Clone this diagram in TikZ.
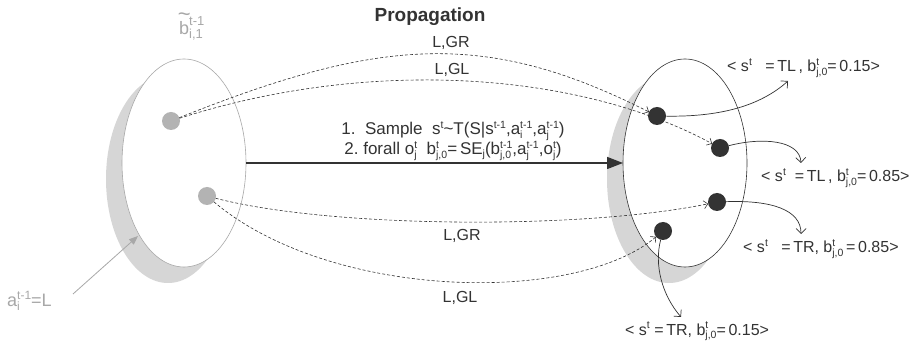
\documentclass[tikz,border=0pt]{standalone}
\usepackage{fontspec}
\setmainfont{Liberation Sans}
\usetikzlibrary{arrows.meta,shapes.geometric}
\definecolor{dark}{HTML}{333333}
\definecolor{lgrey}{HTML}{A8A8A8}
\definecolor{crescent}{HTML}{D6D6D6}
\definecolor{dotgrey}{HTML}{B3B3B3}
\newcommand\smallf{\fontsize{10.5}{11}\selectfont}
\newcommand\Sup[1]{\raise6pt\hbox{\smallf #1}}
\newcommand\Sub[1]{\lower3pt\hbox{\smallf #1}}
\newcommand\SupSub[2]{\mbox{\setbox0\hbox{\smallf #1}\setbox2\hbox{\smallf #2}%
  \raise6.5pt\copy0\kern-\wd0\lower3.5pt\copy2\kern-\wd2
  \ifdim\wd0>\wd2\kern\wd0\else\kern\wd2\fi}}
\begin{document}
\begin{tikzpicture}[x=1pt,y=-1pt,
  lbl/.style={font=\fontsize{16}{18}\selectfont, text=dark, inner sep=0pt},
  mlbl/.style={font=\fontsize{17}{19}\selectfont, text=dark, inner sep=0pt},
  glbl/.style={font=\fontsize{18}{20}\selectfont, text=lgrey, inner sep=0pt},
  belief/.style={ellipse, minimum width=124pt, minimum height=208pt, inner sep=0pt, outer sep=0pt, fill=white, line width=0.6pt},
  gdot/.style={circle, fill=dotgrey, minimum size=18pt, inner sep=0pt, outer sep=0pt},
  bdot/.style={circle, fill=dark, minimum size=18pt, inner sep=0pt, outer sep=0pt},
  darr/.style={draw=dark, line width=0.6pt, dash pattern=on 3pt off 2pt, -{Straight Barb[length=4pt,width=8pt]}},
  larr/.style={draw=dark, line width=0.7pt, -{Straight Barb[length=5pt,width=10pt]}},
  marr/.style={draw=dark, line width=1.6pt, -{Triangle[length=16pt,width=12pt]}}
]
\fill[white] (0,0) rectangle (915,344);
\useasboundingbox (0,0) rectangle (915,344);

% shadows (crescents)
\fill[crescent] (168,179) ellipse [x radius=62, y radius=104];
\fill[crescent] (669,179) ellipse [x radius=62, y radius=104];

% belief ellipses
\node[belief, draw=lgrey] (LE) at (184,163) {};
\node[belief, draw=dark] (RE) at (685,163) {};

% dots
\node[gdot] (ld1) at (171,121) {};
\node[gdot] (ld2) at (207,196) {};
\node[bdot] (rd1) at (657,116) {};
\node[bdot] (rd2) at (720,148) {};
\node[bdot] (rd3) at (717,202) {};
\node[bdot] (rd4) at (663,231) {};

% dashed propagation curves
\draw[darr] (ld1) .. controls (381,37) and (487,30) .. (rd1);
\draw[darr] (ld1) .. controls (371,57) and (580,72) .. (rd2);
\draw[darr] (ld2) .. controls (330,228) and (580,230) .. (rd3);
\draw[darr] (ld2) .. controls (330,300) and (575,305) .. (rd4);

% main arrow
\draw[marr] (LE) -- (RE);

% curve labels
\node[lbl] (t1) at (451,43) {L,GR};
\node[lbl] (t2) at (452,70) {L,GL};
\node[lbl] (t3) at (462,236) {L,GR};
\node[lbl] (t4) at (460,298) {L,GL};

% main arrow text
\node[mlbl, anchor=base] (m1) at (453,135) {1.\ \ Sample\ \ s\Sup{t}\textasciitilde T(S\textbar s\Sup{t-1},a\SupSub{t-1}{i},a\SupSub{t-1}{j})};
\node[mlbl, anchor=base] (m2) at (453,155) {2.\ forall\ o\SupSub{t}{j}\ \ b\SupSub{t}{j,0}=\,SE\Sub{j}(b\SupSub{t-1}{j,0},a\SupSub{t-1}{j},o\SupSub{t}{j})};

% title
\node[font=\fontsize{19}{22}\selectfont\bfseries, text=dark, inner sep=0pt, anchor=base] (title) at (430,22) {Propagation};

% prior belief label
\node[glbl, anchor=base west] (bt) at (179,35) {\ooalign{b\cr\hidewidth\raise13pt\hbox{\fontsize{22}{22}\selectfont\textasciitilde}\hidewidth\cr}{\fontsize{13}{14}\selectfont\setbox0\hbox{t-1}\setbox2\hbox{i,1}\raise9pt\copy0\kern-\wd0\lower4pt\copy2}};

% action label
\node[glbl, anchor=base west] (al) at (7,307) {a{\fontsize{12}{13}\selectfont\setbox0\hbox{t-1}\setbox2\hbox{i}\raise7pt\copy0\kern-\wd0\lower3.5pt\copy2\kern-\wd2\kern\wd0}=L};
\coordinate (aS) at (73,294);
\coordinate (aE) at (138,236);
\draw[draw=lgrey, line width=0.8pt, -{Triangle[length=9pt,width=7pt]}] (aS) -- (aE);

% resulting particles labels
\node[lbl, anchor=base west] (r1) at (727,72) {<\ s\Sup{t}\ \ \ =\,TL\,,\ b\SupSub{t}{j,0}=\,0.15>};
\node[lbl, anchor=base west] (r2) at (761,182) {<\ s\Sup{t}\ \ =\,TL\,,\ b\SupSub{t}{j,0}=\,0.85>};
\node[lbl, anchor=base west] (r3) at (743,253) {<\ s\Sup{t}\ \ \ =\,TR,\ b\SupSub{t}{j,0}\,=\,0.85>};
\node[lbl, anchor=base west] (r4) at (625,335) {<\ s\Sup{t}\ =\,TR,\ b\SupSub{t}{j,0}=\,0.15>};

\coordinate (c1) at (788,81);
\coordinate (c2) at (801,163);
\coordinate (c3) at (801,234);
\coordinate (c4) at (681,317);
\draw[larr] (rd1) .. controls (720,117) and (760,106) .. (c1);
\draw[larr] (rd2) .. controls (762,137) and (800,140) .. (c2);
\draw[larr] (rd3) .. controls (772,200) and (801,210) .. (c3);
\draw[larr] (rd4) .. controls (654,265) and (662,295) .. (c4);
\end{tikzpicture}
\end{document}
